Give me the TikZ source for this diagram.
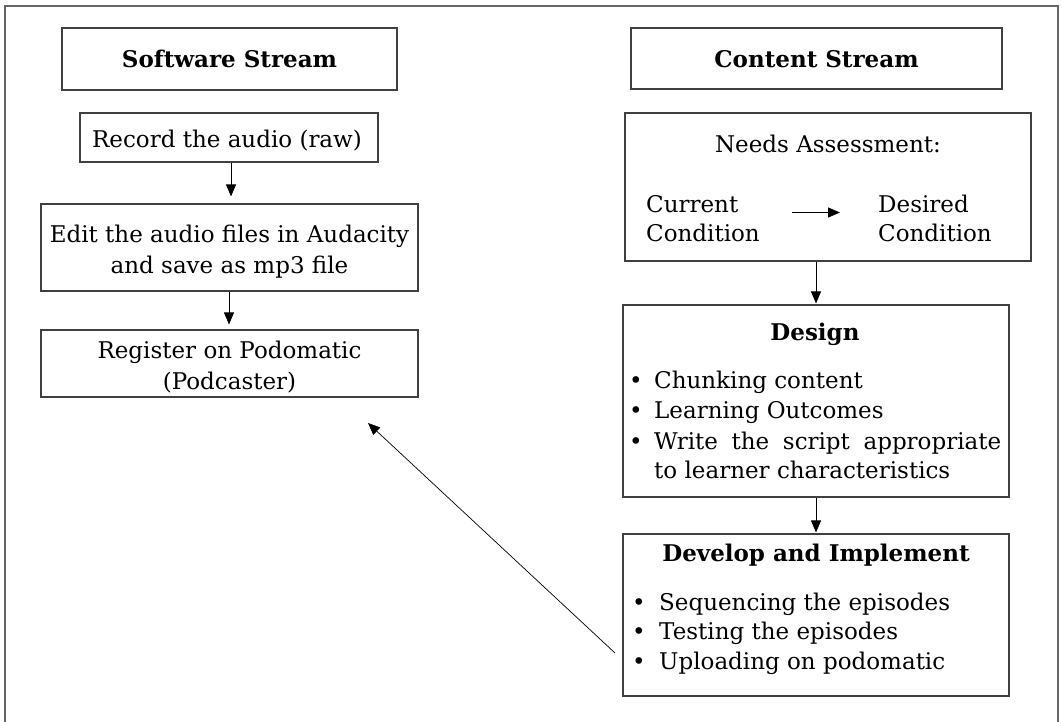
\documentclass[tikz,border=0pt]{standalone}
\usepackage{fontspec}
\setmainfont{DejaVu Serif}
\usetikzlibrary{arrows.meta}
\begin{document}
\begin{tikzpicture}[x=1pt,y=-1pt,
  box/.style 2 args={draw=black!75,line width=1.1pt,inner sep=0pt,minimum width=#1pt,minimum height=#2pt},
  frame/.style={draw=black!60,line width=1.8pt},
  txt/.style={inner sep=0pt,anchor=base,font=\fontsize{23}{28}\selectfont},
  txtw/.style={txt,anchor=base west},
  ttl/.style={inner sep=0pt,anchor=base,font=\fontsize{23}{28}\selectfont\bfseries},
  arr/.style={-{Triangle[length=12pt,width=10pt]},line width=0.8pt,black},
]
\useasboundingbox (0,0) rectangle (1062,722);
\draw[frame] (5,724) -- (5,6) -- (1058,6) -- (1058,724);

% left column
\node[box={335}{62}] (sw) at (229.5,59) {};
\node[ttl] (swt) at (229.5,68) {Software Stream};
\node[box={298}{49}] (rec) at (229,137.5) {};
\node[txt] (rect) at (227,148) {Record the audio (raw)};
\node[box={377}{87}] (edit) at (229.5,247.5) {};
\node[txt] (edit1) at (229.5,242) {Edit the audio files in Audacity};
\node[txt] (edit2) at (229.5,273) {and save as mp3 file};
\node[box={377}{67}] (reg) at (229.5,363.5) {};
\node[txt] (reg1) at (229.5,358) {Register on Podomatic};
\node[txt] (reg2) at (229.5,389) {(Podcaster)};

% right column
\node[box={371}{61}] (cs) at (816.5,58.5) {};
\node[ttl] (cst) at (816.5,68) {Content Stream};
\node[box={406}{148}] (needs) at (828,187) {};
\node[txt] (needst) at (828,153) {Needs Assessment:};
\node[txtw] (cur1) at (646,212) {Current};
\node[txtw] (cur2) at (646,241) {Condition};
\node[txtw] (des1) at (878,212) {Desired};
\node[txtw] (des2) at (878,241) {Condition};
\coordinate (na1) at (792,212.5);
\coordinate (na2) at (840,212.5);
\draw[arr] (na1) -- (na2);

\node[box={386}{192}] (design) at (816,401) {};
\node[ttl] (designt) at (815,340) {Design};
\node[txt] (b1) at (636,388) {\textbullet};
\node[txtw] (d1) at (654,388) {Chunking content};
\node[txt] (b2) at (636,418) {\textbullet};
\node[txtw] (d2) at (654,418) {Learning Outcomes};
\node[txt] (b3) at (636,449) {\textbullet};
\node[txtw] (d3) at (654,449) {\makebox[347pt][s]{Write the script appropriate}};
\node[txtw] (d4) at (654,478) {to learner characteristics};

\node[box={386}{162}] (dev) at (816,615) {};
\node[ttl] (devt) at (816,561) {Develop and Implement};
\node[txt] (b4) at (639,610) {\textbullet};
\node[txtw] (e1) at (659,610) {Sequencing the episodes};
\node[txt] (b5) at (639,639) {\textbullet};
\node[txtw] (e2) at (659,639) {Testing the episodes};
\node[txt] (b6) at (639,669) {\textbullet};
\node[txtw] (e3) at (659,669) {Uploading on podomatic};

% connectors
\draw[arr,shorten >=7pt] (rec.south -| 231,0) -- (edit.north -| 231,0);
\draw[arr,shorten >=5pt] (edit.south -| 229,0) -- (reg.north -| 229,0);
\draw[arr,shorten >=1pt] (design.north |- needs.south) -- (design.north);
\draw[arr,shorten >=1pt] (design.south) -- (dev.north);
\coordinate (dstart) at (615,653);
\coordinate (dend) at (368,423);
\draw[arr,line width=0.7pt] (dstart) -- (dend);
\end{tikzpicture}
\end{document}
